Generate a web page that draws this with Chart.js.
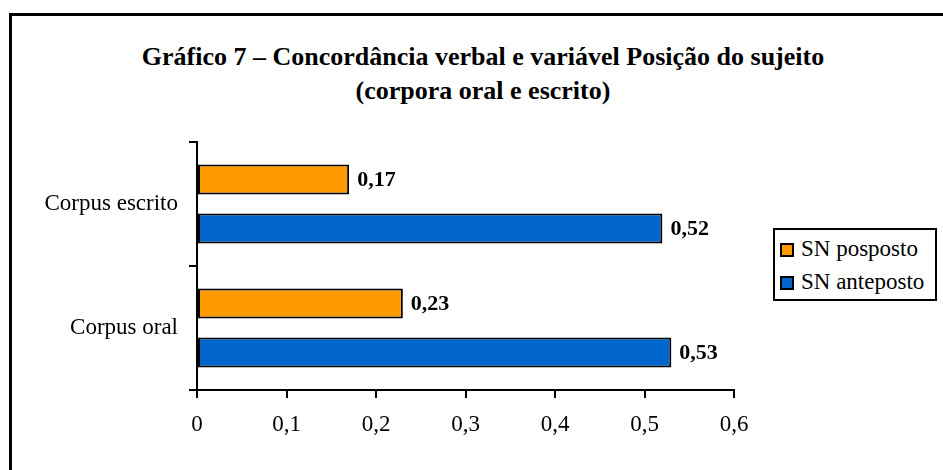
<!DOCTYPE html>
<html lang="pt">
<head>
    <meta charset="UTF-8">
    <title>Gráfico 7 – Concordância verbal e variável Posição do sujeito</title>
    <script src="https://cdn.jsdelivr.net/npm/chart.js"></script>
    <style>
        body {
            margin: 0;
            width: 943px;
            height: 470px;
            overflow: hidden;
            background: white;
            font-family: "Liberation Serif", "Times New Roman", serif;
        }
        .frame {
            position: absolute;
            left: 9px;
            top: 13px;
            width: 1000px;
            height: 500px;
            border: 3px solid black;
        }
        .title {
            position: absolute;
            left: 183px;
            top: 40px;
            width: 600px;
            text-align: center;
            font-size: 26px;
            line-height: 34px;
            font-weight: bold;
            white-space: nowrap;
            color: black;
        }
        .title div {
            margin-left: -200px;
            margin-right: -200px;
        }
        .chart-box {
            position: absolute;
            left: 10px;
            top: 0;
            width: 944px;
            height: 470px;
        }
        .legend {
            position: absolute;
            left: 773px;
            top: 228px;
            width: 164px;
            height: 73px;
            border: 2px solid black;
            box-sizing: border-box;
            background: white;
        }
        .legend-item {
            position: absolute;
            left: 5px;
            height: 24px;
            line-height: 24px;
            font-size: 23px;
            color: black;
            white-space: nowrap;
        }
        .swatch {
            display: inline-block;
            width: 10px;
            height: 10px;
            border: 2px solid black;
            margin-right: 7px;
            vertical-align: -1px;
        }
    </style>
</head>
<body>
    <div class="frame"></div>
    <div class="title">
        <div>Gráfico 7 – Concordância verbal e variável Posição do sujeito</div>
        <div>(corpora oral e escrito)</div>
    </div>
    <div class="chart-box"><canvas id="chart"></canvas></div>
    <div class="legend">
        <div class="legend-item" style="top: 7px;"><span class="swatch" style="background:#FF9900"></span>SN posposto</div>
        <div class="legend-item" style="top: 40px;"><span class="swatch" style="background:#0066CC"></span>SN anteposto</div>
    </div>

    <script>
        // data
        const categories = ['Corpus escrito', 'Corpus oral'];
        const snPosposto = [0.17, 0.23];
        const snAnteposto = [0.52, 0.53];
        const xTicks = [0, 0.1, 0.2, 0.3, 0.4, 0.5, 0.6];

        const serif = '"Liberation Serif", "Times New Roman", serif';

        function fmt(v) {
            return v === 0 ? '0' : Number(v).toFixed(2).replace(/0$/, '').replace('.', ',');
        }

        // value labels at the end of each bar
        const valueLabels = {
            id: 'valueLabels',
            afterDatasetsDraw(chart) {
                const ctx = chart.ctx;
                ctx.save();
                ctx.font = 'bold 22px ' + serif;
                ctx.fillStyle = 'black';
                ctx.textAlign = 'left';
                ctx.textBaseline = 'middle';
                chart.data.datasets.forEach((ds, i) => {
                    chart.getDatasetMeta(i).data.forEach((bar, j) => {
                        ctx.fillText(fmt(ds.data[j]), bar.x + 8, bar.y + 1);
                    });
                });
                ctx.restore();
            }
        };

        new Chart(document.getElementById('chart'), {
            type: 'bar',
            data: {
                labels: categories,
                datasets: [
                    {
                        label: 'SN posposto',
                        data: snPosposto,
                        backgroundColor: '#FF9900',
                        borderColor: 'black',
                        borderWidth: 2,
                        borderSkipped: false
                    },
                    {
                        label: 'SN anteposto',
                        data: snAnteposto,
                        backgroundColor: '#0066CC',
                        borderColor: 'black',
                        borderWidth: 2,
                        borderSkipped: false
                    }
                ]
            },
            options: {
                indexAxis: 'y',
                responsive: true,
                maintainAspectRatio: false,
                animation: false,
                categoryPercentage: 0.79,
                barPercentage: 0.61,
                layout: {
                    padding: { top: 142, right: 220, bottom: 0, left: 0 }
                },
                plugins: {
                    legend: { display: false },
                    tooltip: { enabled: false },
                    title: { display: false }
                },
                scales: {
                    x: {
                        min: 0,
                        max: 0.6,
                        afterBuildTicks: scale => {
                            scale.ticks = xTicks.map(v => ({ value: v }));
                        },
                        afterFit: scale => { scale.height = 80; },
                        ticks: {
                            color: 'black',
                            font: { family: serif, size: 23 },
                            padding: 13,
                            maxRotation: 0,
                            callback: v => fmt(v)
                        },
                        grid: {
                            drawOnChartArea: false,
                            color: 'black',
                            lineWidth: 2,
                            tickLength: 8
                        },
                        border: { color: 'black', width: 2 }
                    },
                    y: {
                        afterFit: scale => { scale.width = 187; },
                        ticks: {
                            color: 'black',
                            font: { family: serif, size: 23 },
                            padding: 11
                        },
                        grid: {
                            drawOnChartArea: false,
                            color: 'black',
                            lineWidth: 2,
                            tickLength: 8
                        },
                        border: { color: 'black', width: 2 }
                    }
                }
            },
            plugins: [valueLabels]
        });
    </script>
</body>
</html>
